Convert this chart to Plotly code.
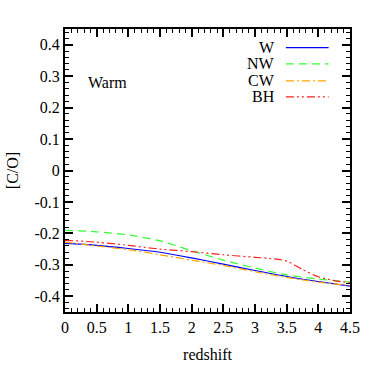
import plotly.graph_objects as go

redshift = [0, 0.5, 1, 1.5, 2, 2.5, 3, 3.5, 4, 4.5]
co_W = [-0.232, -0.238, -0.248, -0.260, -0.278, -0.298, -0.318, -0.337, -0.353, -0.368]
co_NW = [-0.190, -0.195, -0.205, -0.224, -0.255, -0.285, -0.310, -0.332, -0.345, -0.355]
co_CW = [-0.228, -0.240, -0.252, -0.268, -0.285, -0.302, -0.322, -0.340, -0.355, -0.366]
redshift_BH = [0, 0.5, 1, 1.5, 2, 2.5, 3, 3.25, 3.5, 3.75, 4, 4.25, 4.5]
co_BH = [-0.222, -0.228, -0.238, -0.250, -0.258, -0.268, -0.276, -0.280, -0.288, -0.315, -0.338, -0.350, -0.357]

names = ["W", "NW", "CW", "BH"]
colors = ["#0000ff", "#33ff33", "#ffa500", "#ff2020"]
dashes = ["solid", "8px,5px", "8px,3px,2px,3px", "8px,3px,2px,3px,2px,3px"]

FONT = "Liberation Serif"
FS = 16
fig = go.Figure()
series = [(redshift, co_W), (redshift, co_NW), (redshift, co_CW), (redshift_BH, co_BH)]
for (xs, ys), n, c, d in zip(series, names, colors, dashes):
    fig.add_trace(go.Scatter(x=xs, y=ys, mode="lines", name=n,
                             line=dict(color=c, width=1.2, dash=d, shape="spline", smoothing=0.8),
                             showlegend=False))

# manual legend (text left of the line sample)
leg_y = [0.934, 0.877, 0.817, 0.760]
for i, (n, c, d) in enumerate(zip(names, colors, dashes)):
    fig.add_annotation(xref="paper", yref="paper", x=0.745, y=leg_y[i], text=n,
                       showarrow=False, xanchor="right", yanchor="middle",
                       font=dict(family=FONT, size=FS, color="black"))
    fig.add_shape(type="line", xref="paper", yref="paper", x0=0.775, x1=0.925,
                  y0=leg_y[i], y1=leg_y[i], line=dict(color=c, width=1.2, dash=d))

fig.add_annotation(xref="paper", yref="paper", x=0.072, y=0.81, text="Warm",
                   showarrow=False, xanchor="left", yanchor="middle",
                   font=dict(family=FONT, size=FS, color="black"))

axis_common = dict(showline=True, linecolor="black", linewidth=2, mirror="ticks",
                   ticks="inside", ticklen=8, tickwidth=1.5, tickcolor="black",
                   showgrid=False, zeroline=False,
                   tickfont=dict(family=FONT, size=FS, color="black"))
fig.update_xaxes(range=[0, 4.5], dtick=0.5, tick0=0,
                 title=dict(text="redshift", font=dict(family=FONT, size=FS, color="black"), standoff=14),
                 minor=dict(dtick=0.1, ticks="inside", ticklen=4, tickwidth=1.2, tickcolor="black"),
                 **axis_common)
fig.update_yaxes(range=[-0.45, 0.45], dtick=0.1, tick0=0,
                 tickvals=[-0.4, -0.3, -0.2, -0.1, 0, 0.1, 0.2, 0.3, 0.4],
                 ticktext=["-0.4", "-0.3", "-0.2", "-0.1", "0", "0.1", "0.2", "0.3", "0.4"],
                 title=dict(text="[C/O]", font=dict(family=FONT, size=FS, color="black"), standoff=12),
                 minor=dict(dtick=0.02, ticks="inside", ticklen=4, tickwidth=1.2, tickcolor="black"),
                 **axis_common)
fig.update_layout(width=374, height=374, margin=dict(l=65, r=24, t=29, b=62),
                  plot_bgcolor="white", paper_bgcolor="white")
fig.write_html("out.html", config={"displayModeBar": False},
               post_script="document.body.style.margin='0px';")
